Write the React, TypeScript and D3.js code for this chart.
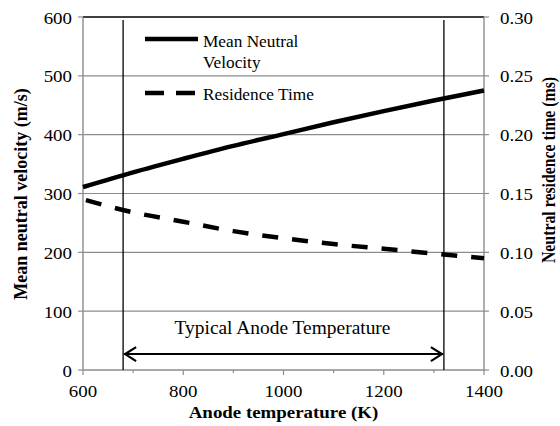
import React from "react";
import * as d3 from "d3";

// Anode temperature (K) sample points
const temperature = [600, 700, 800, 900, 1000, 1100, 1200, 1300, 1400];
// Mean neutral velocity (m/s)
const velocity = [311, 336, 359, 381, 401, 421, 440, 458, 475];
// Neutral residence time (ms)
const residence = [0.145, 0.134, 0.126, 0.118, 0.112, 0.107, 0.103, 0.099, 0.095];

const xTicks = [600, 800, 1000, 1200, 1400];
const xMinorTicks = [700, 900, 1100, 1300];
const leftTicks = [0, 100, 200, 300, 400, 500, 600];
const rightTicks = [0, 0.05, 0.1, 0.15, 0.2, 0.25, 0.3];

// Typical anode temperature band (K) and arrow level (m/s)
const typicalRange = [680, 1320];
const arrowLevel = 27;

const W = 560;
const H = 426;
const M = { top: 17, right: 76, bottom: 56, left: 83 };
const SERIF = "Liberation Serif";
const SX = 1.08; // slight horizontal widening of the serif glyphs

type TProps = {
  x: number;
  y: number;
  size: number;
  anchor?: "start" | "middle" | "end";
  bold?: boolean;
  dy?: string;
  children: React.ReactNode;
};

function T({ x, y, size, anchor = "start", bold = false, dy, children }: TProps) {
  return (
    <text
      transform={`translate(${x},${y}) scale(${SX},1)`}
      textAnchor={anchor}
      dy={dy}
      fontSize={size}
      fill="#000"
      style={{ fontFamily: SERIF, fontWeight: bold ? "bold" : "normal" }}
    >
      {children}
    </text>
  );
}

export default function App() {
  const x = d3.scaleLinear().domain([600, 1400]).range([M.left, W - M.right]);
  const yL = d3.scaleLinear().domain([0, 600]).range([H - M.bottom, M.top]);
  const yR = d3.scaleLinear().domain([0, 0.3]).range([H - M.bottom, M.top]);

  const velLine = d3
    .line<number>()
    .x((_, i) => x(temperature[i]))
    .y((d) => yL(d))
    .curve(d3.curveMonotoneX);
  const resLine = d3
    .line<number>()
    .x((_, i) => x(temperature[i]))
    .y((d) => yR(d))
    .curve(d3.curveMonotoneX);

  const x0 = M.left;
  const x1 = W - M.right;
  const yb = H - M.bottom;
  const yt = M.top;
  const grid = "#8c8c8c";

  const ay = yL(arrowLevel);
  const ax0 = x(typicalRange[0]);
  const ax1 = x(typicalRange[1]);

  return (
    <svg width={W} height={H} style={{ position: "absolute", left: 0, top: 0, background: "#fff" }}>
      {/* horizontal gridlines */}
      {leftTicks.slice(1, -1).map((t) => (
        <line key={t} x1={x0} x2={x1} y1={yL(t)} y2={yL(t)} stroke={grid} strokeWidth={1.2} />
      ))}
      {/* top border */}
      <line x1={x0} x2={x1} y1={yt} y2={yt} stroke="#000" strokeWidth={1.4} />
      {/* axes */}
      <line x1={x0} x2={x0} y1={yt} y2={yb} stroke={grid} strokeWidth={1.4} />
      <line x1={x1} x2={x1} y1={yt} y2={yb} stroke={grid} strokeWidth={1.4} />
      <line x1={x0} x2={x1} y1={yb} y2={yb} stroke={grid} strokeWidth={1.4} />

      {/* left ticks */}
      {leftTicks.map((t) => (
        <g key={"l" + t}>
          <line x1={x0 - 5} x2={x0} y1={yL(t)} y2={yL(t)} stroke={grid} strokeWidth={1.2} />
          <T x={x0 - 11} y={yL(t) + 6.5} size={17.5} anchor="end">
            {t}
          </T>
        </g>
      ))}
      {/* right ticks */}
      {rightTicks.map((t) => (
        <g key={"r" + t}>
          <line x1={x1} x2={x1 + 5} y1={yR(t)} y2={yR(t)} stroke={grid} strokeWidth={1.2} />
          <T x={x1 + 16} y={yR(t) + 6.5} size={17.5}>
            {t.toFixed(2)}
          </T>
        </g>
      ))}
      {/* bottom ticks */}
      {xTicks.map((t) => (
        <g key={"x" + t}>
          <line x1={x(t)} x2={x(t)} y1={yb} y2={yb + 5} stroke={grid} strokeWidth={1.2} />
          <T x={x(t)} y={yb + 27} size={17.5} anchor="middle">
            {t}
          </T>
        </g>
      ))}
      {xMinorTicks.map((t) => (
        <line key={"m" + t} x1={x(t)} x2={x(t)} y1={yb} y2={yb + 3} stroke={grid} strokeWidth={1.2} />
      ))}

      {/* typical anode temperature band */}
      {typicalRange.map((t) => (
        <line key={"v" + t} x1={x(t)} x2={x(t)} y1={yt + 3} y2={yb} stroke="#000" strokeWidth={1.3} />
      ))}
      <line x1={ax0 + 1} x2={ax1 - 1} y1={ay} y2={ay} stroke="#000" strokeWidth={2} />
      <polyline
        points={`${ax0 + 13},${ay - 7} ${ax0 + 2},${ay} ${ax0 + 13},${ay + 7}`}
        fill="none"
        stroke="#000"
        strokeWidth={2.2}
      />
      <polyline
        points={`${ax1 - 13},${ay - 7} ${ax1 - 2},${ay} ${ax1 - 13},${ay + 7}`}
        fill="none"
        stroke="#000"
        strokeWidth={2.2}
      />
      <T x={(ax0 + ax1) / 2 - 1} y={ay - 20} size={18} anchor="middle">
        Typical Anode Temperature
      </T>

      {/* series */}
      <path d={velLine(velocity) || ""} fill="none" stroke="#000" strokeWidth={4.5} />
      <path
        d={resLine(residence) || ""}
        fill="none"
        stroke="#000"
        strokeWidth={4.5}
        strokeDasharray="16 14"
        strokeDashoffset={-3}
      />

      {/* legend */}
      <line x1={145} x2={198} y1={39} y2={39} stroke="#000" strokeWidth={4.5} />
      <T x={203} y={46.5} size={16}>
        Mean Neutral
      </T>
      <T x={203} y={67.5} size={16}>
        Velocity
      </T>
      <line x1={145} x2={198} y1={93} y2={93} stroke="#000" strokeWidth={4.5} strokeDasharray="19 12" />
      <T x={203} y={99.5} size={16}>
        Residence Time
      </T>

      {/* axis titles */}
      <text
        transform={`translate(20,194) rotate(-90) scale(1,${SX})`}
        textAnchor="middle"
        dy="0.35em"
        fontSize={18}
        style={{ fontFamily: SERIF, fontWeight: "bold" }}
      >
        Mean neutral velocity (m/s)
      </text>
      <text
        transform={`translate(549,170) rotate(-90) scale(1,${SX + 0.06})`}
        textAnchor="middle"
        dy="0.35em"
        fontSize={15.8}
        style={{ fontFamily: SERIF, fontWeight: "bold" }}
      >
        Neutral residence time (ms)
      </text>
      <T x={(x0 + x1) / 2} y={418} size={17.5} anchor="middle" bold>
        Anode temperature (K)
      </T>
    </svg>
  );
}
